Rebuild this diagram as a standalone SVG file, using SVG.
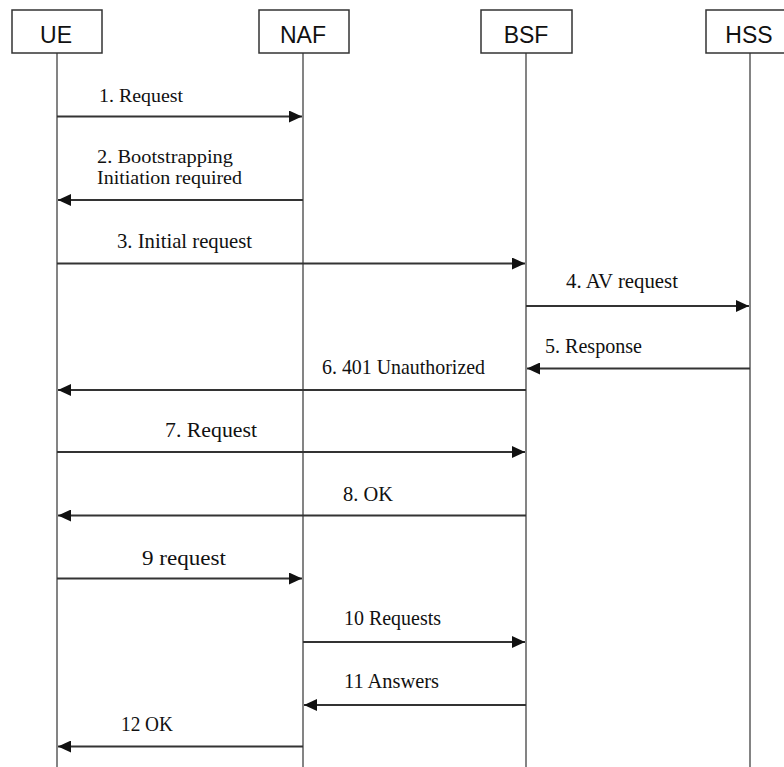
<svg xmlns="http://www.w3.org/2000/svg" width="784" height="767" viewBox="0 0 784 767">
<style>
.box{fill:#fff;stroke:#333;stroke-width:1.5}
.name{font-family:"Liberation Sans",Arial,sans-serif;font-size:23px;fill:#111;text-anchor:middle}
.life{stroke:#777;stroke-width:1.8}
.msg{stroke:#333;stroke-width:2;fill:none}
.lbl{font-family:"Liberation Serif","Times New Roman",serif;font-size:21px;fill:#111}
.sm{font-size:18.5px}
</style>
<defs>
<marker id="ah" viewBox="0 0 13 12" refX="13" refY="6" markerWidth="13" markerHeight="12" markerUnits="userSpaceOnUse" orient="auto">
<path d="M0,0 L13,6 L0,12 Z" fill="#111"/>
</marker>
</defs>
<rect width="784" height="767" fill="#fff"/>
<g id="lifelines">
<line class="life" x1="57" y1="53" x2="57" y2="767"/>
<line class="life" x1="303" y1="53" x2="303" y2="767"/>
<line class="life" x1="526" y1="53" x2="526" y2="767"/>
<line class="life" x1="750" y1="53" x2="750" y2="767"/>
</g>
<g id="UE"><rect class="box" x="12" y="10" width="90" height="43"/><text class="name" x="56" y="43">UE</text></g>
<g id="NAF"><rect class="box" x="259" y="10" width="90" height="43"/><text class="name" x="303" y="43">NAF</text></g>
<g id="BSF"><rect class="box" x="481" y="10" width="91" height="43"/><text class="name" x="526" y="43">BSF</text></g>
<g id="HSS"><rect class="box" x="706" y="10" width="90" height="43"/><text class="name" x="749" y="43">HSS</text></g>
<g id="connectors">
<line class="msg" x1="57" y1="116.5" x2="302" y2="116.5" marker-end="url(#ah)"/>
<line class="msg" x1="303" y1="200" x2="58" y2="200" marker-end="url(#ah)"/>
<line class="msg" x1="57" y1="263.5" x2="525" y2="263.5" marker-end="url(#ah)"/>
<line class="msg" x1="526" y1="306" x2="749" y2="306" marker-end="url(#ah)"/>
<line class="msg" x1="750" y1="368.5" x2="527" y2="368.5" marker-end="url(#ah)"/>
<line class="msg" x1="526" y1="390" x2="58" y2="390" marker-end="url(#ah)"/>
<line class="msg" x1="57" y1="452" x2="525" y2="452" marker-end="url(#ah)"/>
<line class="msg" x1="526" y1="515.5" x2="58" y2="515.5" marker-end="url(#ah)"/>
<line class="msg" x1="57" y1="578.5" x2="302" y2="578.5" marker-end="url(#ah)"/>
<line class="msg" x1="303" y1="642" x2="525" y2="642" marker-end="url(#ah)"/>
<line class="msg" x1="526" y1="705" x2="304" y2="705" marker-end="url(#ah)"/>
<line class="msg" x1="303" y1="746.5" x2="58" y2="746.5" marker-end="url(#ah)"/>
</g>
<g id="labels">
<text class="lbl sm" x="99" y="102" textLength="84" lengthAdjust="spacingAndGlyphs">1. Request</text>
<text class="lbl sm" x="97" y="163" textLength="136" lengthAdjust="spacingAndGlyphs">2. Bootstrapping</text>
<text class="lbl sm" x="97" y="183.5" textLength="145" lengthAdjust="spacingAndGlyphs">Initiation required</text>
<text class="lbl" x="117" y="247.5" textLength="135" lengthAdjust="spacingAndGlyphs">3. Initial request</text>
<text class="lbl" x="566" y="288" textLength="112" lengthAdjust="spacingAndGlyphs">4. AV request</text>
<text class="lbl" x="545" y="352.5" textLength="97" lengthAdjust="spacingAndGlyphs">5. Response</text>
<text class="lbl" x="322" y="373.5" textLength="163" lengthAdjust="spacingAndGlyphs">6. 401 Unauthorized</text>
<text class="lbl" x="165" y="437" textLength="92" lengthAdjust="spacingAndGlyphs">7. Request</text>
<text class="lbl" x="343" y="501" textLength="50" lengthAdjust="spacingAndGlyphs">8. OK</text>
<text class="lbl" x="142" y="565" textLength="84" lengthAdjust="spacingAndGlyphs">9 request</text>
<text class="lbl" x="344" y="625" textLength="97" lengthAdjust="spacingAndGlyphs">10 Requests</text>
<text class="lbl" x="344" y="688" textLength="95" lengthAdjust="spacingAndGlyphs">11 Answers</text>
<text class="lbl" x="121" y="730.5" textLength="52" lengthAdjust="spacingAndGlyphs">12 OK</text>
</g>
</svg>
